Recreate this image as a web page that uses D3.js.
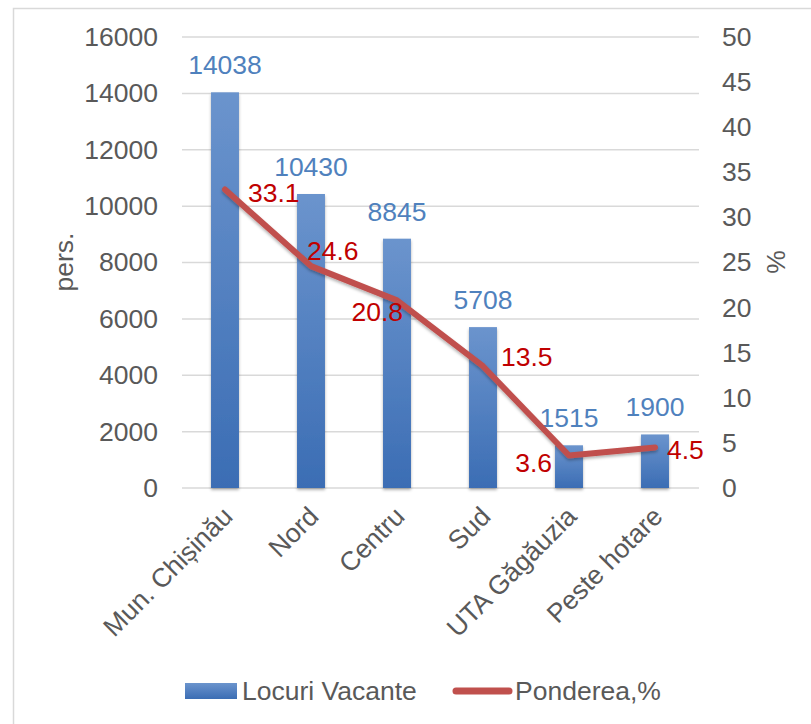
<!DOCTYPE html>
<html>
<head>
<meta charset="utf-8">
<script src="https://cdn.jsdelivr.net/npm/d3@7"></script>
<style>
  body { margin: 0; background: #fff; }
  text { font-family: "Liberation Sans", Arial, sans-serif; }
</style>
</head>
<body>
<svg id="chart" width="811" height="724"></svg>
<script>
// Data
var categories = ["Mun. Chișinău", "Nord", "Centru", "Sud", "UTA Găgăuzia", "Peste hotare"];
var vacancies = [14038, 10430, 8845, 5708, 1515, 1900];
var share = [33.1, 24.6, 20.8, 13.5, 3.6, 4.5];
var leftTicks = [0, 2000, 4000, 6000, 8000, 10000, 12000, 14000, 16000];
var rightTicks = [0, 5, 10, 15, 20, 25, 30, 35, 40, 45, 50];

// where each red label sits next to its point (Excel left/right placement)
var shareLabelPos = [
  {dx: 23, dy: 3, anchor: "start"},
  {dx: -4, dy: -15, anchor: "start"},
  {dx: 6, dy: 11, anchor: "end"},
  {dx: 18, dy: -10, anchor: "start"},
  {dx: -17, dy: 7, anchor: "end"},
  {dx: 12, dy: 2, anchor: "start"}
];

var svg = d3.select("#chart");
var fs = 26.5;

// outer frame
svg.append("rect")
  .attr("x", 13.5).attr("y", 8.5)
  .attr("width", 820).attr("height", 740)
  .attr("fill", "none").attr("stroke", "#d9d9d9").attr("stroke-width", 1.5);

var defs = svg.append("defs");
var grad = defs.append("linearGradient").attr("id", "barGrad")
  .attr("x1", 0).attr("y1", 0).attr("x2", 0).attr("y2", 1);
grad.append("stop").attr("offset", "0%").attr("stop-color", "#6b94cd");
grad.append("stop").attr("offset", "100%").attr("stop-color", "#3b6db4");

var shadow = defs.append("filter").attr("id", "shadow")
  .attr("x", "-30%").attr("y", "-10%").attr("width", "160%").attr("height", "130%");
shadow.append("feDropShadow").attr("dx", 0).attr("dy", 2).attr("stdDeviation", 1.5)
  .attr("flood-color", "#000").attr("flood-opacity", 0.3);

// scales
var x = d3.scaleBand().domain(categories).range([182, 698]).paddingInner(0.675).paddingOuter(0.3375);
var y = d3.scaleLinear().domain([0, 16000]).range([488, 37]);
var yR = d3.scaleLinear().domain([0, 50]).range([488, 37]);

// gridlines
svg.append("g").selectAll("line").data(leftTicks).enter().append("line")
  .attr("x1", 182).attr("x2", 699)
  .attr("y1", function(d) { return y(d); })
  .attr("y2", function(d) { return y(d); })
  .attr("stroke", "#d9d9d9").attr("stroke-width", 1.5);

// left axis
var leftAxis = svg.append("g").attr("transform", "translate(182,0)")
  .call(d3.axisLeft(y).tickValues(leftTicks).tickFormat(d3.format("d")).tickSize(0).tickPadding(24));
leftAxis.select(".domain").remove();
leftAxis.selectAll("text").attr("font-size", fs).attr("fill", "#595959")
  .style("font-family", "Liberation Sans, Arial, sans-serif");

// right axis
var rightAxis = svg.append("g").attr("transform", "translate(699,0)")
  .call(d3.axisRight(yR).tickValues(rightTicks).tickSize(0).tickPadding(23));
rightAxis.select(".domain").remove();
rightAxis.selectAll("text").attr("font-size", fs).attr("fill", "#595959")
  .style("font-family", "Liberation Sans, Arial, sans-serif");

// axis titles
svg.append("text").attr("transform", "translate(73,262) rotate(-90)")
  .attr("text-anchor", "middle").attr("font-size", fs).attr("fill", "#595959").text("pers.");
svg.append("text").attr("transform", "translate(766,262) rotate(-90)")
  .attr("text-anchor", "middle").attr("dy", "0.7em").attr("font-size", fs).attr("fill", "#595959").text("%");

// bars
svg.append("g").selectAll("rect").data(vacancies).enter().append("rect")
  .attr("x", function(d, i) { return x(categories[i]); })
  .attr("width", x.bandwidth())
  .attr("y", function(d) { return y(d); })
  .attr("height", function(d) { return y(0) - y(d); })
  .attr("fill", "url(#barGrad)")
  .attr("filter", "url(#shadow)");

// bar labels
svg.append("g").selectAll("text").data(vacancies).enter().append("text")
  .attr("x", function(d, i) { return x(categories[i]) + x.bandwidth() / 2; })
  .attr("y", function(d) { return y(d) - 18; })
  .attr("text-anchor", "middle").attr("font-size", fs).attr("fill", "#4f81bd")
  .text(function(d) { return d; });

// line
var line = d3.line()
  .x(function(d, i) { return x(categories[i]) + x.bandwidth() / 2; })
  .y(function(d) { return yR(d); });
svg.append("path").datum(share)
  .attr("d", line)
  .attr("fill", "none").attr("stroke", "#c0504d").attr("stroke-width", 6)
  .attr("stroke-linecap", "round").attr("stroke-linejoin", "round")
  .attr("filter", "url(#shadow)");

// line labels
svg.append("g").selectAll("text").data(share).enter().append("text")
  .attr("x", function(d, i) { return x(categories[i]) + x.bandwidth() / 2 + shareLabelPos[i].dx; })
  .attr("y", function(d, i) { return yR(d) + shareLabelPos[i].dy; })
  .attr("dy", "0.35em")
  .attr("text-anchor", function(d, i) { return shareLabelPos[i].anchor; })
  .attr("font-size", fs).attr("fill", "#c00000")
  .text(function(d) { return d.toFixed(1); });

// category labels
svg.append("g").selectAll("text").data(categories).enter().append("text")
  .attr("transform", function(d) {
    return "translate(" + (x(d) + x.bandwidth() / 2 - 4) + ",505) rotate(-45)";
  })
  .attr("text-anchor", "end").attr("dy", "0.7em")
  .attr("font-size", fs).attr("fill", "#595959")
  .text(function(d) { return d; });

// legend
svg.append("rect").attr("x", 185).attr("y", 683).attr("width", 52).attr("height", 16)
  .attr("fill", "url(#barGrad)");
svg.append("text").attr("x", 242).attr("y", 700).attr("font-size", fs).attr("fill", "#595959")
  .text("Locuri Vacante");
svg.append("line").attr("x1", 456).attr("x2", 509).attr("y1", 691).attr("y2", 691)
  .attr("stroke", "#c0504d").attr("stroke-width", 7).attr("stroke-linecap", "round");
svg.append("text").attr("x", 515).attr("y", 700).attr("font-size", fs).attr("fill", "#595959")
  .text("Ponderea,%");
</script>
</body>
</html>
